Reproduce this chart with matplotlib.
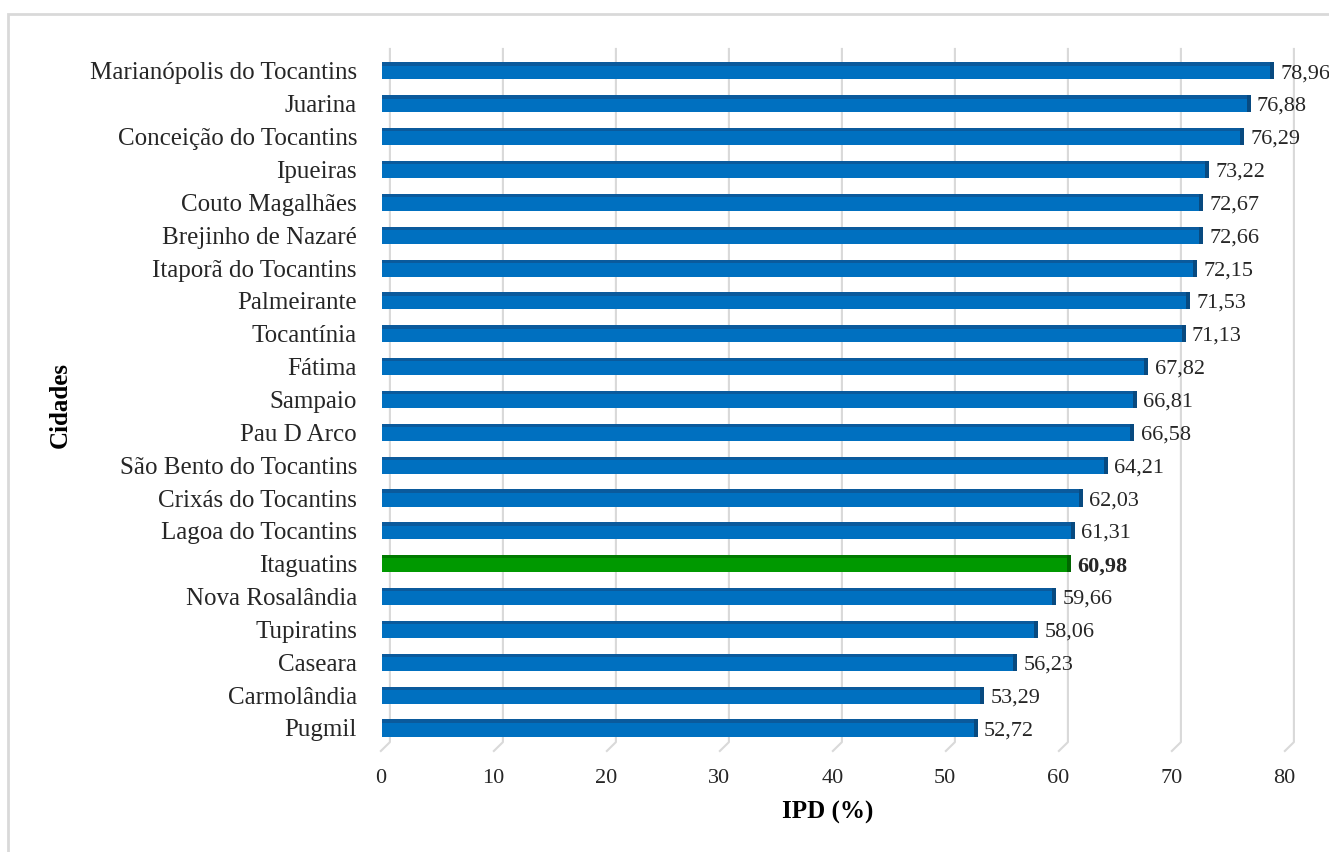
import matplotlib.pyplot as plt
from matplotlib.patches import Rectangle

cidades = ["Pugmil", "Carmolândia", "Caseara", "Tupiratins", "Nova Rosalândia",
           "Itaguatins", "Lagoa do Tocantins", "Crixás do Tocantins",
           "São Bento do Tocantins", "Pau D Arco", "Sampaio", "Fátima",
           "Tocantínia", "Palmeirante", "Itaporã do Tocantins", "Brejinho de Nazaré",
           "Couto Magalhães", "Ipueiras", "Conceição do Tocantins", "Juarina",
           "Marianópolis do Tocantins"]
ipd = [52.72, 53.29, 56.23, 58.06, 59.66, 60.98, 61.31, 62.03, 64.21, 66.58,
       66.81, 67.82, 71.13, 71.53, 72.15, 72.66, 72.67, 73.22, 76.29, 76.88, 78.96]
destaque = "Itaguatins"
xticks = [0, 10, 20, 30, 40, 50, 60, 70, 80]

plt.rcParams['font.family'] = ['Liberation Serif', 'DejaVu Serif']

fig = plt.figure(figsize=(13.29, 8.52), dpi=100)
W, H = 1329, 852
# light frame around the chart
fig.patches.append(Rectangle((8 / W, -0.1), 1.2, 1 - 14 / H + 0.1, transform=fig.transFigure,
                             fill=False, edgecolor='#d9d9d9', linewidth=2))

ax = fig.add_axes([382 / W, 1 - 750 / H, (1300 - 382) / W, 705 / H])
xmax = (1300 - 382) / 11.3
ax.set_xlim(0, xmax)
ax.set_ylim(-0.67, 20.79)
for s in ax.spines.values():
    s.set_visible(False)
ax.set_xticks([])

# gridlines with the little 3D floor foot
for t in xticks:
    ax.plot([t + 0.7, t + 0.7, t - 0.1], [20.67, -0.43, -0.70], color='#d9d9d9',
            linewidth=1.5, clip_on=False, zorder=0)
    ax.text(t - 0.15, -1.55, str(t), ha='center', va='center', fontsize=16,
            color='#262626', clip_on=False)

y = list(range(len(cidades)))
h = 0.52
for yi, v, c in zip(y, ipd, cidades):
    if c == destaque:
        main, top, cap = '#009900', '#007a00', '#006600'
    else:
        main, top, cap = '#0070c0', '#0b5a9c', '#084a80'
    ax.barh(yi, v, height=h, color=main, zorder=2)
    ax.barh(yi + h / 2 - 0.05, v, height=0.1, color=top, zorder=3)
    ax.barh(yi, 0.35, left=v - 0.35, height=h, color=cap, zorder=3)
    lbl = f"{v:.2f}".replace('.', ',')
    ax.text(v + 0.55, yi - 0.08, lbl, va='center', ha='left', fontsize=16,
            color='#262626', fontweight='bold' if c == destaque else 'normal', zorder=4)

ax.set_yticks(y)
ax.set_yticklabels(cidades, fontsize=18, color='#262626')
ax.tick_params(axis='y', length=0, pad=18)

fig.text(60 / W, 1 - 405 / H, "Cidades", rotation=90, ha='center', va='center',
         fontsize=18, fontweight='bold')
fig.text(828 / W, 1 - 812 / H, "IPD (%)", ha='center', va='center',
         fontsize=18, fontweight='bold')

fig.savefig("out.png", dpi=100)
